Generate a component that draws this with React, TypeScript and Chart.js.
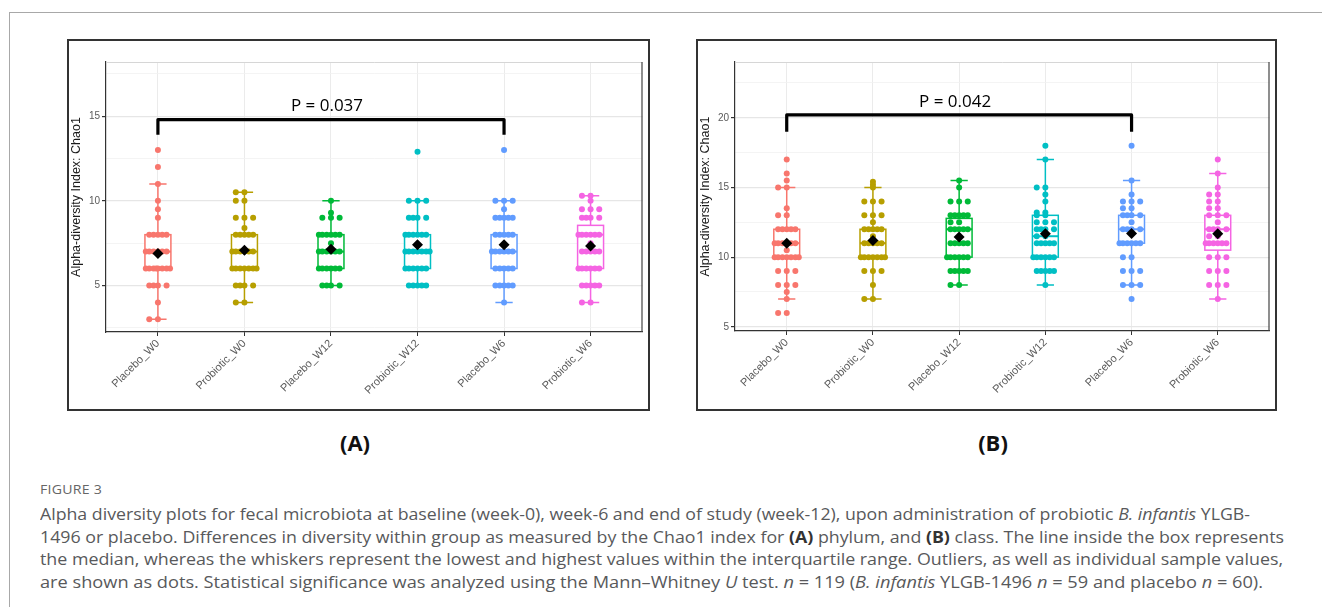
import React, { useEffect, useLayoutEffect, useRef } from 'react';
import { Chart, registerables } from 'chart.js';

Chart.register(...registerables);

// ---------- shared ----------
const CATEGORIES = ['Placebo_W0', 'Probiotic_W0', 'Placebo_W12', 'Probiotic_W12', 'Placebo_W6', 'Probiotic_W6'];
const COLORS = ['#F8766D', '#B79F00', '#00BA38', '#00BFC4', '#619CFF', '#F564E3'];
const Y_TITLE = 'Alpha-diversity Index: Chao1';

// ---------- panel A (phylum) ----------
const A_PLACEBO_W0 = [13, 12, 11, 10, 9.5, 9, 8, 8, 8, 8, 8, 7, 7, 7, 7, 7, 7, 6, 6, 6, 6, 6, 6, 6, 6, 5, 5, 5, 5, 4, 3, 3];
const A_PROBIOTIC_W0 = [10.5, 10.5, 10, 10, 9, 9, 9, 8.4, 8, 8, 8, 8, 8, 7, 7, 7, 7, 7, 7, 6, 6, 6, 6, 6, 6, 6, 5, 5, 5, 5, 4, 4];
const A_PLACEBO_W12 = [10, 9.3, 9, 9, 9, 8, 8, 8, 8, 8, 8, 7.5, 7, 7, 7, 7, 7, 7, 6, 6, 6, 6, 6, 6, 5, 5, 5, 5];
const A_PROBIOTIC_W12 = [12.9, 10, 10, 10, 9, 9, 9, 9, 8, 8, 8, 8, 8, 8, 7, 7, 7, 7, 7, 7, 7, 6, 6, 6, 6, 6, 6, 5, 5, 5, 5, 5];
const A_PLACEBO_W6 = [13, 10, 10, 10, 9.5, 9, 9, 9, 9, 9, 8, 8, 8, 8, 8, 7, 7, 7, 7, 7, 7, 6, 6, 6, 6, 6, 5, 5, 5, 5, 5, 4];
const A_PROBIOTIC_W6 = [10.3, 10.3, 10, 9.5, 9.5, 9.5, 9, 9, 9, 9, 8, 8, 8, 8, 8, 8, 7.5, 7, 7, 7, 7, 7, 6, 6, 6, 6, 6, 6, 5, 5, 5, 5, 5, 4, 4];
const A_Q1 = [6, 6, 6, 6, 6, 6];
const A_MEDIAN = [7, 7, 7, 7, 7, 8];
const A_Q3 = [8, 8, 8, 8, 8, 8.55];
const A_WHISKER_LOW = [3, 4, 5, 5, 4, 4];
const A_WHISKER_HIGH = [11, 10.5, 10, 10, 10, 10.3];
const A_MEAN = [6.88, 7.08, 7.14, 7.4, 7.4, 7.33];
const A_Y_TICKS = [2.5, 5, 7.5, 10, 12.5, 15, 17.5];
const A_BRACKET = { from: 0, to: 4, top: 14.8, leg: 13.9, labelY: 15.6, label: 'P = 0.037' };

// ---------- panel B (class) ----------
const B_PLACEBO_W0 = [17, 16, 15.5, 15, 15, 13.5, 13, 13, 12, 12, 12, 12, 12, 11, 11, 11, 11, 11, 11, 10.5, 10, 10, 10, 10, 10, 10, 10, 9, 9, 9, 8, 8, 8, 7.5, 7, 6, 6];
const B_PROBIOTIC_W0 = [15.4, 15.2, 15, 14, 14, 14, 13, 13, 13, 12.5, 12, 12, 12, 12, 12, 11.5, 11, 11, 11, 11, 11, 10, 10, 10, 10, 10, 10, 10, 9, 9, 9, 8, 7, 7];
const B_PLACEBO_W12 = [15.5, 15, 14, 14, 14, 13, 13, 13, 13, 13, 12.5, 12.5, 12, 12, 12, 12, 12, 11, 11, 11, 11, 11, 10, 10, 10, 10, 10, 10, 9, 9, 9, 9, 9, 8, 8];
const B_PROBIOTIC_W12 = [18, 17, 15, 15, 14.5, 14, 13.2, 13.2, 13, 13, 12.5, 12.5, 12.5, 12, 12, 12, 12, 11.5, 11.5, 11, 11, 11, 11, 11, 10, 10, 10, 10, 10, 10, 9, 9, 9, 9, 9, 8];
const B_PLACEBO_W6 = [18, 15.5, 14.5, 14, 14, 14, 13.5, 13.5, 13, 13, 13, 13, 12.5, 12, 12, 12, 12, 11, 11, 11, 11, 11, 11, 10, 10, 9, 9, 9, 8, 8, 8, 7];
const B_PROBIOTIC_W6 = [17, 16, 15, 14.5, 14.5, 14, 14, 13.5, 13.5, 13, 13, 13, 12.5, 12, 12, 12, 12, 11.5, 11.5, 11, 11, 11, 11, 11, 11, 10, 10, 10, 9, 9, 9, 8, 8, 8, 7];
const B_Q1 = [10, 10, 10, 10, 11, 10.5];
const B_MEDIAN = [11, 11, 12, 11.5, 12, 12];
const B_Q3 = [12, 12, 12.78, 13, 13, 13];
const B_WHISKER_LOW = [7, 7, 8, 8, 8, 7];
const B_WHISKER_HIGH = [15, 15, 15.5, 17, 15.5, 16];
const B_MEAN = [11.0, 11.2, 11.45, 11.67, 11.7, 11.67];
const B_Y_TICKS = [5, 7.5, 10, 12.5, 15, 17.5, 20, 22.5];
const B_BRACKET = { from: 0, to: 4, top: 20.2, leg: 19.0, labelY: 21.15, label: 'P = 0.042' };

// ---------- caption ----------
const FIGURE_LABEL = 'FIGURE 3';

const JITTER = [0.0, -0.1, 0.1, -0.05, 0.05, -0.14, 0.14, -0.02, 0.08, -0.12, 0.12];

const AXIS_FONT = '"Liberation Sans", Arial, sans-serif';

type PanelProps = {
  groups: number[][];
  q1: number[];
  median: number[];
  q3: number[];
  low: number[];
  high: number[];
  mean: number[];
  yMin: number;
  yMax: number;
  yTicks: number[];
  bracket: { from: number; to: number; top: number; leg: number; labelY: number; label: string };
  width: number;
  height: number;
  rightPad: number;
  xHeight: number;
};

function Panel(p: PanelProps) {
  const ref = useRef<HTMLCanvasElement | null>(null);
  useEffect(() => {
    if (!ref.current) return;
    const pointSets = p.groups.map((vals, i) => {
      const seen: Record<string, number> = {};
      const data = vals.map((v) => {
        const k = seen[v] ?? 0;
        seen[v] = k + 1;
        return { x: i + JITTER[k % JITTER.length], y: v };
      });
      return {
        label: CATEGORIES[i],
        data,
        pointRadius: 3,
        pointHoverRadius: 3,
        backgroundColor: COLORS[i],
        borderColor: COLORS[i],
        borderWidth: 0,
      };
    });
    const meanSet = {
      label: 'mean',
      data: p.mean.map((m, i) => ({ x: i, y: m })),
      pointStyle: 'rectRot',
      pointRadius: 5.5,
      pointHoverRadius: 5.5,
      backgroundColor: '#000',
      borderColor: '#000',
      borderWidth: 0,
    };

    const boxPlugin = {
      id: 'boxes',
      beforeDatasetsDraw(chart: any) {
        const { ctx, scales, chartArea } = chart;
        const x = scales.x;
        const y = scales.y;
        ctx.save();
        for (let i = 0; i < CATEGORIES.length; i++) {
          const cx = x.getPixelForValue(i);
          const hw = x.getPixelForValue(i + 0.15) - cx;
          const cw = x.getPixelForValue(i + 0.1) - cx;
          const yl = y.getPixelForValue(p.low[i]);
          const yh = y.getPixelForValue(p.high[i]);
          const y1 = y.getPixelForValue(p.q1[i]);
          const y3 = y.getPixelForValue(p.q3[i]);
          const ym = y.getPixelForValue(p.median[i]);
          ctx.strokeStyle = COLORS[i];
          ctx.lineWidth = 1.5;
          ctx.beginPath();
          ctx.moveTo(cx, yl); ctx.lineTo(cx, yh);
          ctx.moveTo(cx - cw, yl); ctx.lineTo(cx + cw, yl);
          ctx.moveTo(cx - cw, yh); ctx.lineTo(cx + cw, yh);
          ctx.stroke();
          ctx.fillStyle = '#fff';
          ctx.fillRect(cx - hw, y3, hw * 2, y1 - y3);
          ctx.strokeRect(cx - hw, y3, hw * 2, y1 - y3);
          ctx.lineWidth = 2;
          ctx.beginPath();
          ctx.moveTo(cx - hw, ym); ctx.lineTo(cx + hw, ym);
          ctx.stroke();
        }
        // panel border top / right
        ctx.lineWidth = 1;
        ctx.strokeStyle = '#d6d6d6';
        ctx.beginPath();
        ctx.moveTo(chartArea.left, chartArea.top + 0.5);
        ctx.lineTo(chartArea.right, chartArea.top + 0.5);
        ctx.stroke();
        ctx.strokeStyle = '#444';
        ctx.lineWidth = 1.2;
        ctx.beginPath();
        ctx.moveTo(chartArea.right - 0.5, chartArea.top);
        ctx.lineTo(chartArea.right - 0.5, chartArea.bottom);
        ctx.stroke();
        ctx.restore();
      },
      afterDatasetsDraw(chart: any) {
        const { ctx, scales } = chart;
        const x = scales.x;
        const y = scales.y;
        const b = p.bracket;
        const x0 = x.getPixelForValue(b.from);
        const x1 = x.getPixelForValue(b.to);
        const yt = y.getPixelForValue(b.top);
        const yb = y.getPixelForValue(b.leg);
        ctx.save();
        ctx.strokeStyle = '#000';
        ctx.lineWidth = 3.2;
        ctx.lineJoin = 'round';
        ctx.beginPath();
        ctx.moveTo(x0, yb);
        ctx.lineTo(x0, yt);
        ctx.lineTo(x1, yt);
        ctx.lineTo(x1, yb);
        ctx.stroke();
        ctx.fillStyle = '#000';
        ctx.font = '17px "Open Sans", sans-serif';
        ctx.textAlign = 'center';
        ctx.textBaseline = 'middle';
        ctx.fillText(b.label, (x0 + x1) / 2 - 4, y.getPixelForValue(b.labelY));
        ctx.restore();
      },
    };

    const chart = new Chart(ref.current, {
      type: 'scatter',
      data: { datasets: [meanSet, ...pointSets] as any },
      options: {
        animation: false,
        responsive: false,
        maintainAspectRatio: false,
        events: [],
        layout: { padding: { top: 21, right: p.rightPad, left: 0, bottom: 0 } },
        plugins: { legend: { display: false }, tooltip: { enabled: false } },
        scales: {
          x: {
            type: 'linear',
            min: -0.6,
            max: 5.6,
            afterBuildTicks: (s: any) => {
              s.ticks = CATEGORIES.map((_, i) => ({ value: i }));
            },
            afterFit: (s: any) => {
              s.height = p.xHeight;
            },
            ticks: {
              autoSkip: false,
              minRotation: 45,
              maxRotation: 45,
              color: '#5a5a5a',
              padding: 1,
              font: { family: AXIS_FONT, size: 11 },
              callback: (v: any) => CATEGORIES[Math.round(Number(v))] ?? '',
            },
            grid: { color: '#ebebeb', lineWidth: 1, tickLength: 4, tickColor: '#333', drawTicks: true },
            border: { color: '#333', width: 1.2 },
          },
          y: {
            min: p.yMin,
            max: p.yMax,
            afterBuildTicks: (s: any) => {
              s.ticks = p.yTicks.map((v) => ({ value: v }));
            },
            afterFit: (s: any) => {
              s.width = 37;
            },
            ticks: {
              color: '#5a5a5a',
              padding: 2,
              font: { family: AXIS_FONT, size: 10 },
              callback: (v: any) => (Number(v) % 5 === 0 ? String(v) : ''),
            },
            grid: {
              color: (c: any) => (c.tick && c.tick.value % 5 === 0 ? '#e6e6e6' : '#f1f1f1'),
              lineWidth: (c: any) => (c.tick && c.tick.value % 5 === 0 ? 1.2 : 0.8),
              tickLength: 4,
              tickColor: (c: any) => (c.tick && c.tick.value % 5 === 0 ? '#333' : 'rgba(0,0,0,0)'),
              drawTicks: true,
            },
            border: { color: '#333', width: 1.2 },
            title: {
              display: true,
              text: Y_TITLE,
              color: '#1a1a1a',
              font: { family: AXIS_FONT, size: 12.5 },
              padding: { top: 0, bottom: 0 },
            },
          },
        },
      },
      plugins: [boxPlugin],
    } as any);
    return () => chart.destroy();
  }, []);
  return <canvas ref={ref} width={p.width} height={p.height} style={{ display: 'block', width: p.width, height: p.height }} />;
}

function FitLine({ target, top, children, style }: { target: number; top: number; children: React.ReactNode; style?: React.CSSProperties }) {
  const ref = useRef<HTMLSpanElement | null>(null);
  useLayoutEffect(() => {
    const el = ref.current;
    if (!el) return;
    el.style.transform = 'none';
    const w = el.getBoundingClientRect().width;
    if (w > 0) el.style.transform = `scaleX(${target / w})`;
  }, []);
  return (
    <span
      ref={ref}
      style={{
        position: 'absolute',
        left: 40,
        top,
        whiteSpace: 'nowrap',
        transformOrigin: '0 0',
        display: 'inline-block',
        ...style,
      }}
    >
      {children}
    </span>
  );
}

export default function App() {
  const capStyle: React.CSSProperties = {
    fontFamily: '"Open Sans", "Noto Sans", sans-serif',
    fontSize: 16,
    lineHeight: '20px',
    color: '#58595b',
  };
  const it = (t: string) => <i>{t}</i>;
  const bd = (t: string) => <b style={{ color: '#333' }}>{t}</b>;
  return (
    <div style={{ position: 'absolute', left: 0, top: 0, width: 1322, height: 607, overflow: 'hidden', background: '#fff' }}>
      <div style={{ position: 'absolute', left: 9, top: 12, right: 0, bottom: 0, borderTop: '1px solid #a8a8a8', borderLeft: '1px solid #a8a8a8' }} />

      <div style={{ position: 'absolute', left: 67, top: 39, width: 583, height: 372, border: '2px solid #333', boxSizing: 'border-box' }} />
      <div style={{ position: 'absolute', left: 69, top: 41 }}>
        <Panel
          groups={[A_PLACEBO_W0, A_PROBIOTIC_W0, A_PLACEBO_W12, A_PROBIOTIC_W12, A_PLACEBO_W6, A_PROBIOTIC_W6]}
          q1={A_Q1}
          median={A_MEDIAN}
          q3={A_Q3}
          low={A_WHISKER_LOW}
          high={A_WHISKER_HIGH}
          mean={A_MEAN}
          yMin={2.25}
          yMax={18.2}
          yTicks={A_Y_TICKS}
          bracket={A_BRACKET}
          width={579}
          height={368}
          rightPad={5}
          xHeight={77}
        />
      </div>

      <div style={{ position: 'absolute', left: 696, top: 39, width: 581, height: 372, border: '2px solid #333', boxSizing: 'border-box' }} />
      <div style={{ position: 'absolute', left: 698, top: 41 }}>
        <Panel
          groups={[B_PLACEBO_W0, B_PROBIOTIC_W0, B_PLACEBO_W12, B_PROBIOTIC_W12, B_PLACEBO_W6, B_PROBIOTIC_W6]}
          q1={B_Q1}
          median={B_MEDIAN}
          q3={B_Q3}
          low={B_WHISKER_LOW}
          high={B_WHISKER_HIGH}
          mean={B_MEAN}
          yMin={4.7}
          yMax={24}
          yTicks={B_Y_TICKS}
          bracket={B_BRACKET}
          width={577}
          height={368}
          rightPad={3}
          xHeight={78}
        />
      </div>

      <div style={{ position: 'absolute', left: 325, top: 427, width: 60, textAlign: 'center', fontFamily: '"Open Sans", sans-serif', fontWeight: 700, fontSize: 22, lineHeight: '30px', color: '#111' }}>(A)</div>
      <div style={{ position: 'absolute', left: 963, top: 427, width: 60, textAlign: 'center', fontFamily: '"Open Sans", sans-serif', fontWeight: 700, fontSize: 22, lineHeight: '30px', color: '#111' }}>(B)</div>

      <FitLine target={62} top={482} style={{ fontFamily: '"Open Sans", sans-serif', fontSize: 12, lineHeight: '16px', color: '#666', letterSpacing: 0.2 }}>
        {FIGURE_LABEL}
      </FitLine>
      <FitLine target={1210} top={504} style={capStyle}>
        Alpha diversity plots for fecal microbiota at baseline (week-0), week-6 and end of study (week-12), upon administration of probiotic {it('B. infantis')} YLGB-
      </FitLine>
      <FitLine target={1244} top={527} style={capStyle}>
        1496 or placebo. Differences in diversity within group as measured by the Chao1 index for {bd('(A)')} phylum, and {bd('(B)')} class. The line inside the box represents
      </FitLine>
      <FitLine target={1243} top={549} style={capStyle}>
        the median, whereas the whiskers represent the lowest and highest values within the interquartile range. Outliers, as well as individual sample values,
      </FitLine>
      <FitLine target={1223} top={572} style={capStyle}>
        are shown as dots. Statistical significance was analyzed using the Mann–Whitney {it('U')} test. {it('n')} = 119 ({it('B. infantis')} YLGB-1496 {it('n')} = 59 and placebo {it('n')} = 60).
      </FitLine>
    </div>
  );
}
